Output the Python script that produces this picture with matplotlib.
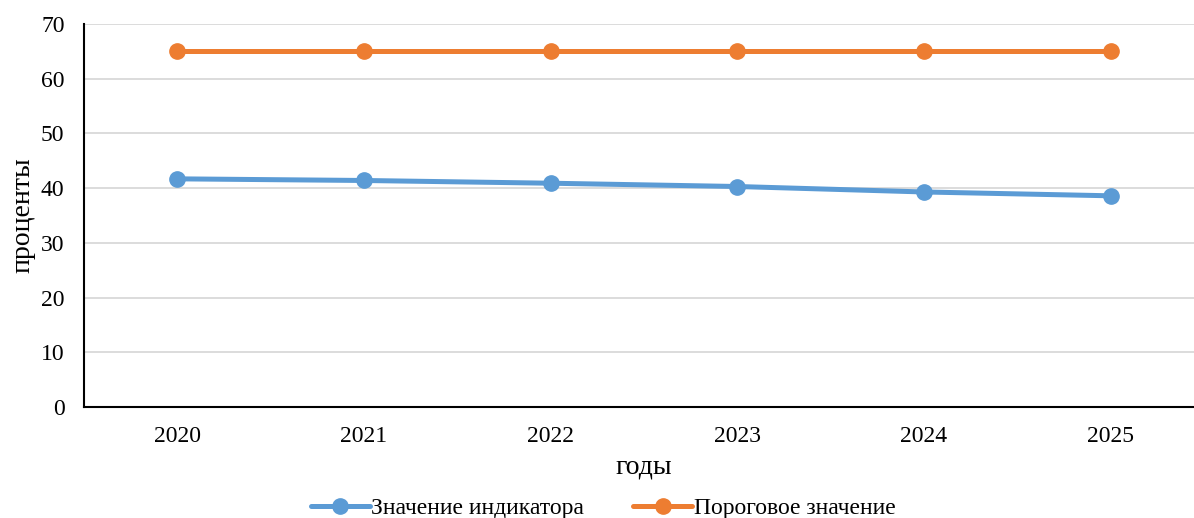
import matplotlib.pyplot as plt

years = ['2020', '2021', '2022', '2023', '2024', '2025']
indicator = [41.7, 41.4, 40.9, 40.3, 39.3, 38.6]
threshold = [65, 65, 65, 65, 65, 65]

plt.rcParams['font.family'] = ['Liberation Serif', 'DejaVu Serif']

fig = plt.figure(figsize=(11.94, 5.18), dpi=100)
ax = fig.add_axes([84 / 1194, 111 / 518, 1120 / 1194, 383 / 518])

x = range(len(years))
ax.plot(x, indicator, color='#5B9BD5', lw=3.6, marker='o', ms=11,
        label='Значение индикатора', solid_capstyle='round')
ax.plot(x, threshold, color='#ED7D31', lw=3.6, marker='o', ms=11,
        label='Пороговое значение', solid_capstyle='round')

ax.set_xlim(-0.5, 5.5)
ax.set_ylim(0, 70)
ax.set_yticks(range(0, 71, 10))
ax.set_xticks(list(x))
ax.set_xticklabels(years)
ax.tick_params(length=0, labelsize=17)
ax.tick_params(axis='x', pad=14)
ax.tick_params(axis='y', pad=14)

ax.grid(axis='y', color='#d9d9d9', lw=1.3)
ax.set_axisbelow(True)
for s in ['top', 'right']:
    ax.spines[s].set_visible(False)
for s in ['left', 'bottom']:
    ax.spines[s].set_color('black')
    ax.spines[s].set_linewidth(1.5)

ax.set_xlabel('годы', fontsize=20, labelpad=5)
ax.set_ylabel('проценты', fontsize=20, labelpad=4)

ax.legend(loc='center', bbox_to_anchor=(603 / 1194, 10 / 518),
          bbox_transform=fig.transFigure, ncol=2, frameon=False,
          fontsize=17, handlelength=2.5, columnspacing=2.1, handletextpad=0.05,
          borderpad=0)

fig.savefig('out.png', dpi=100)
